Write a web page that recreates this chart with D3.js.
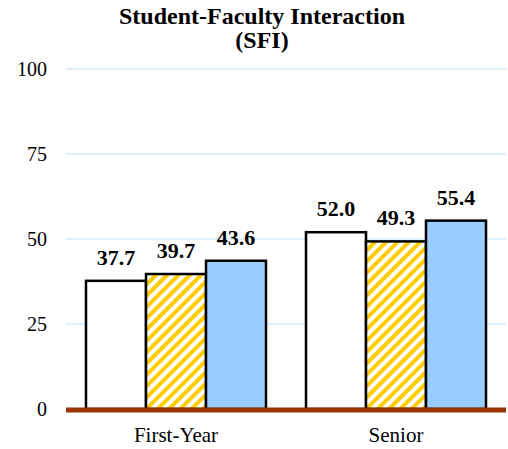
<!DOCTYPE html>
<html>
<head>
<script src="https://d3js.org/d3.v7.min.js"></script>
<style>
body { margin: 0; background: #fff; }
text { font-family: "Liberation Serif", "Times New Roman", serif; }
</style>
</head>
<body>
<script>
var categories = ["First-Year", "Senior"];
var series = ["s1", "s2", "s3"];
var values = {
  "First-Year": [37.7, 39.7, 43.6],
  "Senior": [52.0, 49.3, 55.4]
};
var yTicks = [0, 25, 50, 75, 100];

var width = 508, height = 449;
var plotLeft = 66, plotRight = 506, plotTop = 69, plotBottom = 409;

var svg = d3.select("body").append("svg")
    .attr("width", width)
    .attr("height", height);

// diagonal yellow stripes
var defs = svg.append("defs");
var pat = defs.append("pattern")
    .attr("id", "stripes")
    .attr("patternUnits", "userSpaceOnUse")
    .attr("width", 8)
    .attr("height", 8)
    .attr("patternTransform", "rotate(45)");
pat.append("rect").attr("width", 8).attr("height", 8).attr("fill", "#fff");
pat.append("rect").attr("width", 4).attr("height", 8).attr("fill", "#FFCC00");

var fills = ["#ffffff", "url(#stripes)", "#99CCFF"];

var x = d3.scaleBand().domain(categories).range([plotLeft, plotRight]).paddingInner(0).paddingOuter(0);
var x1 = d3.scaleBand().domain(series).range([0, x.bandwidth()]).paddingInner(0).paddingOuter(1 / 3);
var y = d3.scaleLinear().domain([0, 100]).range([plotBottom, plotTop]);

// gridlines
svg.append("g").selectAll("line").data(yTicks.filter(function(d) { return d > 0; }))
  .enter().append("line")
    .attr("x1", plotLeft).attr("x2", plotRight)
    .attr("y1", function(d) { return y(d); })
    .attr("y2", function(d) { return y(d); })
    .attr("stroke", "#BFDFF7")
    .attr("stroke-width", 1);

// y tick labels
svg.append("g").selectAll("text").data(yTicks)
  .enter().append("text")
    .attr("x", 47)
    .attr("y", function(d) { return y(d) + 7; })
    .attr("text-anchor", "end")
    .attr("font-size", 20)
    .text(function(d) { return d; });

// bars
var groups = svg.append("g").selectAll("g").data(categories)
  .enter().append("g")
    .attr("transform", function(c) { return "translate(" + x(c) + ",0)"; });

groups.selectAll("rect").data(function(c) { return values[c]; })
  .enter().append("rect")
    .attr("x", function(d, i) { return x1(series[i]); })
    .attr("y", function(d) { return y(d); })
    .attr("width", x1.bandwidth())
    .attr("height", function(d) { return plotBottom - y(d); })
    .attr("fill", function(d, i) { return fills[i]; })
    .attr("stroke", "#000")
    .attr("stroke-width", 2.5);

groups.selectAll("text").data(function(c) { return values[c]; })
  .enter().append("text")
    .attr("x", function(d, i) { return x1(series[i]) + x1.bandwidth() / 2; })
    .attr("y", function(d) { return y(d) - 16; })
    .attr("text-anchor", "middle")
    .attr("font-size", 22)
    .attr("font-weight", "bold")
    .text(function(d) { return d.toFixed(1); });

// baseline
svg.append("line")
    .attr("x1", plotLeft).attr("x2", plotRight)
    .attr("y1", plotBottom + 1).attr("y2", plotBottom + 1)
    .attr("stroke", "#993300")
    .attr("stroke-width", 5);

// x labels
svg.append("g").selectAll("text").data(categories)
  .enter().append("text")
    .attr("x", function(c) { return x(c) + x.bandwidth() / 2; })
    .attr("y", 442)
    .attr("text-anchor", "middle")
    .attr("font-size", 21)
    .text(function(c) { return c; });

// title
svg.append("text")
    .attr("x", 262).attr("y", 24)
    .attr("text-anchor", "middle")
    .attr("font-size", 24).attr("font-weight", "bold")
    .text("Student-Faculty Interaction");
svg.append("text")
    .attr("x", 262).attr("y", 48)
    .attr("text-anchor", "middle")
    .attr("font-size", 24).attr("font-weight", "bold")
    .text("(SFI)");
</script>
</body>
</html>
